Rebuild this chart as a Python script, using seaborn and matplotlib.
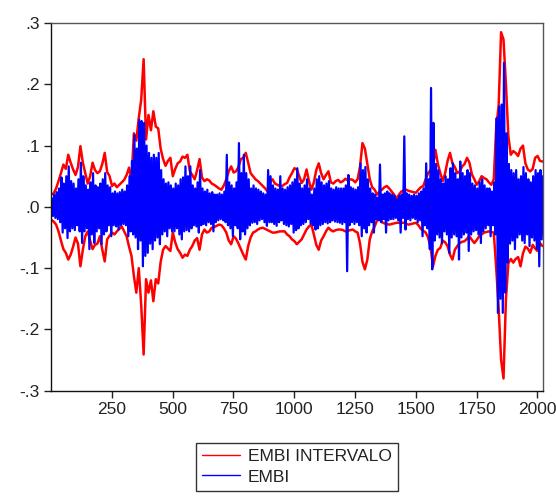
import numpy as np
import pandas as pd
import matplotlib
matplotlib.use("Agg")
import matplotlib.pyplot as plt
from matplotlib.lines import Line2D
import seaborn as sns

# Observations are sampled every 10 periods; values are in thousandths.
STEP = 10

# EMBI INTERVALO: upper and lower limits of the confidence band
band_upper = [
    20, 22, 30, 42, 55, 69, 62, 85, 72, 61,
    52, 65, 99, 72, 55, 38, 50, 72, 60, 55,
    58, 70, 88, 57, 50, 34, 38, 32, 36, 40,
    44, 52, 64, 42, 120, 108, 145, 175, 241, 110,
    150, 125, 156, 131, 128, 95, 78, 67, 75, 80,
    50, 62, 71, 74, 82, 80, 85, 58, 52, 45,
    60, 78, 48, 42, 45, 43, 38, 36, 33, 30,
    28, 35, 45, 58, 66, 56, 58, 65, 78, 80,
    88, 72, 55, 50, 45, 42, 38, 34, 30, 25,
    42, 45, 38, 36, 34, 34, 37, 39, 48, 55,
    63, 61, 50, 39, 45, 61, 42, 28, 40, 60,
    71, 55, 45, 52, 58, 40, 38, 42, 44, 40,
    42, 46, 43, 45, 44, 40, 45, 66, 104, 95,
    70, 45, 32, 28, 20, 25, 28, 32, 34, 30,
    25, 20, 13, 20, 25, 27, 28, 26, 25, 24,
    23, 28, 32, 34, 45, 55, 60, 66, 93, 70,
    55, 42, 55, 75, 88, 71, 65, 55, 58, 66,
    70, 80, 72, 53, 45, 36, 42, 50, 47, 45,
    40, 36, 45, 130, 165, 285, 273, 200, 115, 85,
    91, 88, 83, 95, 100, 71, 61, 58, 62, 80,
    83, 75, 74,
]
band_lower = [
    -21, -24, -29, -40, -55, -69, -75, -86, -78, -65,
    -50, -60, -97, -70, -48, -40, -55, -69, -62, -60,
    -48, -70, -89, -53, -47, -42, -45, -40, -36, -32,
    -40, -48, -65, -80, -113, -140, -100, -160, -241, -118,
    -140, -120, -154, -118, -125, -90, -70, -64, -68, -72,
    -42, -58, -69, -75, -83, -78, -80, -70, -64, -55,
    -51, -70, -45, -37, -42, -40, -34, -33, -31, -29,
    -30, -35, -42, -55, -61, -48, -52, -60, -69, -78,
    -86, -64, -50, -42, -40, -37, -35, -34, -36, -38,
    -40, -42, -42, -41, -40, -40, -40, -45, -48, -53,
    -56, -61, -57, -53, -45, -37, -32, -29, -45, -62,
    -70, -55, -48, -40, -34, -38, -40, -38, -37, -37,
    -38, -40, -39, -38, -37, -40, -42, -60, -90, -102,
    -86, -53, -40, -32, -22, -20, -25, -27, -28, -29,
    -28, -27, -26, -26, -26, -26, -28, -29, -28, -27,
    -26, -30, -36, -39, -42, -50, -66, -97, -80, -70,
    -67, -55, -58, -64, -78, -86, -70, -64, -59, -57,
    -56, -52, -48, -54, -59, -54, -48, -45, -42, -41,
    -40, -41, -42, -100, -165, -249, -280, -150, -92, -85,
    -91, -85, -82, -97, -76, -65, -68, -75, -62, -68,
    -72, -59, -64,
]

# EMBI: highest and lowest return within each 10-period block
embi_high = [
    14, 20, 24, 30, 48, 38, 50, 66, 42, 38,
    30, 45, 72, 50, 35, 28, 40, 55, 35, 32,
    38, 45, 55, 35, 32, 22, 25, 22, 24, 28,
    25, 35, 50, 75, 117, 95, 142, 140, 137, 100,
    88, 80, 85, 80, 88, 60, 45, 38, 40, 35,
    30, 38, 35, 45, 48, 66, 50, 66, 35, 30,
    40, 60, 30, 25, 28, 22, 24, 20, 20, 22,
    20, 25, 85, 40, 35, 30, 40, 104, 55, 85,
    55, 45, 30, 35, 30, 28, 25, 22, 20, 60,
    50, 35, 30, 28, 50, 30, 28, 32, 35, 40,
    45, 63, 38, 30, 35, 45, 30, 20, 30, 45,
    50, 40, 35, 38, 42, 30, 28, 32, 30, 30,
    30, 35, 52, 32, 30, 28, 32, 71, 60, 65,
    45, 30, 22, 20, 15, 69, 20, 22, 25, 22,
    20, 18, 12, 18, 20, 115, 22, 20, 18, 20,
    18, 22, 25, 30, 71, 45, 194, 137, 70, 60,
    45, 38, 50, 45, 63, 71, 55, 45, 74, 55,
    50, 60, 55, 38, 35, 30, 40, 45, 35, 30,
    30, 25, 40, 145, 164, 167, 235, 120, 70, 60,
    55, 60, 45, 50, 65, 55, 45, 40, 50, 60,
    55, 60, 50,
]
embi_low = [
    -15, -18, -20, -25, -42, -35, -51, -40, -35, -38,
    -30, -40, -59, -40, -35, -69, -45, -59, -40, -35,
    -61, -45, -40, -30, -48, -30, -32, -37, -30, -28,
    -30, -48, -40, -45, -50, -69, -55, -97, -80, -75,
    -60, -69, -55, -50, -61, -45, -40, -48, -35, -40,
    -40, -35, -45, -53, -40, -38, -40, -35, -30, -32,
    -42, -30, -28, -30, -25, -28, -40, -25, -22, -20,
    -22, -25, -30, -35, -48, -30, -35, -53, -40, -45,
    -35, -30, -26, -25, -28, -22, -20, -25, -31, -25,
    -25, -28, -31, -25, -22, -28, -30, -32, -28, -42,
    -38, -35, -30, -28, -25, -20, -28, -30, -37, -35,
    -30, -28, -25, -27, -25, -22, -24, -25, -26, -28,
    -25, -105, -30, -25, -28, -25, -30, -48, -35, -42,
    -30, -25, -42, -20, -22, -25, -20, -42, -22, -20,
    -20, -18, -22, -42, -18, -37, -20, -22, -18, -20,
    -25, -22, -48, -30, -35, -69, -102, -55, -45, -50,
    -59, -40, -45, -75, -50, -45, -48, -86, -50, -45,
    -42, -72, -45, -40, -38, -45, -59, -40, -35, -30,
    -48, -30, -45, -173, -150, -173, -140, -91, -60, -55,
    -69, -50, -45, -55, -59, -45, -64, -50, -55, -69,
    -97, -53, -50,
]

x_ticks = [250, 500, 750, 1000, 1250, 1500, 1750, 2000]
y_ticks = [-0.3, -0.2, -0.1, 0.0, 0.1, 0.2, 0.3]
y_tick_labels = ["-.3", "-.2", "-.1", ".0", ".1", ".2", ".3"]
series_names = ["EMBI INTERVALO", "EMBI"]
series_colors = ["#ff0000", "#0000ff"]

# --- tidy frames -----------------------------------------------------------
n_band = len(band_upper)
band_obs = 1 + STEP * np.arange(n_band)
band_df = pd.concat([
    pd.DataFrame({"obs": band_obs, "value": np.array(band_upper) / 1000, "limit": "upper"}),
    pd.DataFrame({"obs": band_obs, "value": np.array(band_lower) / 1000, "limit": "lower"}),
])

# alternate block maxima and minima in time order
n_blk = len(embi_high)
embi_obs = np.empty(2 * n_blk)
embi_val = np.empty(2 * n_blk)
embi_obs[0::2] = 3 + STEP * np.arange(n_blk)
embi_obs[1::2] = 8 + STEP * np.arange(n_blk)
embi_val[0::2] = np.array(embi_high) / 1000
embi_val[1::2] = np.array(embi_low) / 1000
embi_df = pd.DataFrame({"obs": embi_obs, "value": embi_val})

# --- figure ----------------------------------------------------------------
sns.set_theme(style="ticks")
plt.rcParams["font.family"] = ["Liberation Sans", "DejaVu Sans"]

fig = plt.figure(figsize=(5.56, 4.97), dpi=100)
ax = fig.add_axes([0.0917, 0.2139, 0.8843, 0.7398])

sns.lineplot(data=band_df, x="obs", y="value", units="limit", estimator=None,
             color=series_colors[0], linewidth=1.8, ax=ax, legend=False)
sns.lineplot(data=embi_df, x="obs", y="value", estimator=None,
             color=series_colors[1], linewidth=1.6, ax=ax, legend=False)

ax.set_xlim(0, 2022)
ax.set_ylim(-0.3, 0.3)
ax.set_xticks(x_ticks)
ax.set_xticklabels([str(t) for t in x_ticks])
ax.set_yticks(y_ticks)
ax.set_yticklabels(y_tick_labels)
ax.set_xlabel("")
ax.set_ylabel("")
ax.tick_params(axis="both", direction="out", length=5, width=1,
               labelsize=12.5, colors="#222222", pad=3)
for side in ["left", "bottom"]:
    ax.spines[side].set_color("#111111")
for side in ["top", "right"]:
    ax.spines[side].set_color("#555555")
for sp in ax.spines.values():
    sp.set_linewidth(1.0)
    sp.set_visible(True)

handles = [Line2D([0], [0], color=c, linewidth=1.0) for c in series_colors]
leg = fig.legend(handles, series_names, loc="upper center",
                 bbox_to_anchor=(0.534, 0.1087), ncol=1, fontsize=12.5,
                 frameon=True, fancybox=False, framealpha=1, edgecolor="#333333",
                 handlelength=2.2, handletextpad=0.45, borderpad=0.35,
                 labelspacing=0.3, borderaxespad=0)
leg.get_frame().set_linewidth(1.0)
for t in leg.get_texts():
    t.set_color("#222222")

fig.savefig("out.png", dpi=100)
